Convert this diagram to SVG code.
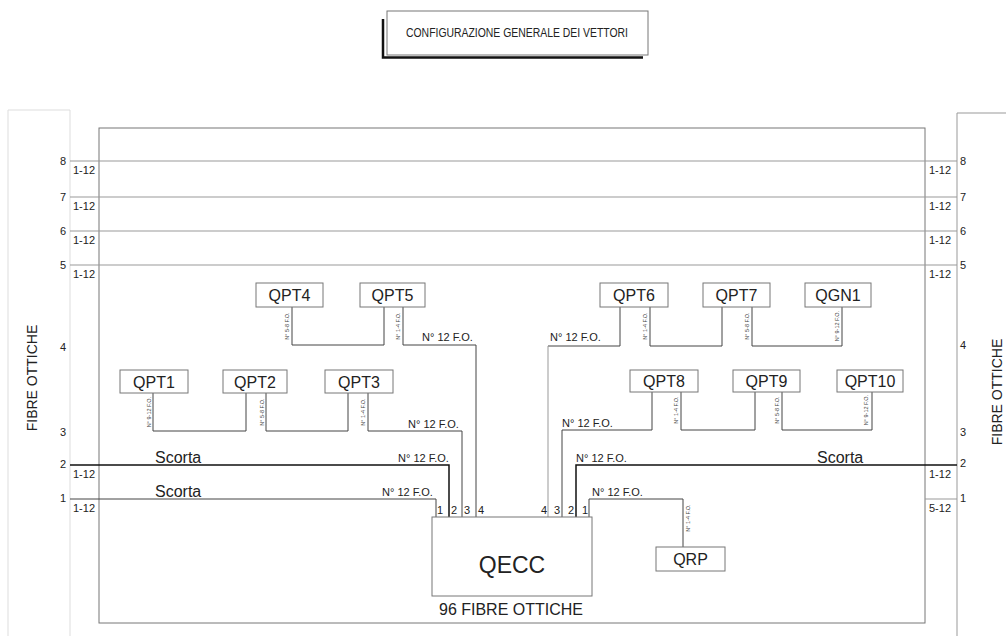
<svg xmlns="http://www.w3.org/2000/svg" width="1006" height="636" viewBox="0 0 1006 636">
<style>
text{font-family:"Liberation Sans",Arial,sans-serif;fill:#222}
.box{fill:#fff;stroke:#777;stroke-width:1}
.lbl{font-size:16px;text-anchor:middle}
.sm{font-size:5.5px;text-anchor:middle;fill:#444}
.fo{font-size:11px}
.num{font-size:11px}
.rng{font-size:11px}
.c{fill:none;stroke:#444;stroke-width:1}
.g{fill:none;stroke:#999;stroke-width:1}
.k{fill:none;stroke:#111;stroke-width:1.5}
</style>
<rect width="1006" height="636" fill="#fff"/>
<g id="title">
<path d="M383,19 V57.5 H643" fill="none" stroke="#111" stroke-width="2.5"/>
<rect x="387" y="11" width="261" height="44" class="box" stroke="#888"/>
<text x="517" y="37" font-size="12" text-anchor="middle" textLength="222" lengthAdjust="spacingAndGlyphs" fill="#333">CONFIGURAZIONE  GENERALE  DEI  VETTORI</text>
</g>
<g id="frames">
<path d="M8,636 V110 H70 V636" fill="none" stroke="#ddd" stroke-width="1"/>
<path d="M957,636 V113 H1006" fill="none" stroke="#999" stroke-width="1"/>
<rect x="99" y="128" width="826" height="495" fill="none" stroke="#777" stroke-width="1"/>
<text x="0" y="0" font-size="14" text-anchor="middle" transform="translate(37,378) rotate(-90)">FIBRE OTTICHE</text>
<text x="0" y="0" font-size="14" text-anchor="middle" transform="translate(1002,392) rotate(-90)">FIBRE OTTICHE</text>
</g>
<g id="connectors">
<path class="g" d="M70,161 H957 M70,197 H957 M70,231 H957 M70,265 H957"/>
<path class="c" d="M292,307 V345 H384 V307"/>
<path class="c" d="M403,307 V345 H476 V517"/>
<path class="c" d="M153,393 V431 H246 V393"/>
<path class="c" d="M266,393 V431 H348 V393"/>
<path class="c" d="M368,393 V431 H462 V517"/>
<path class="k" d="M70,465 H449 V517"/>
<path class="c" d="M70,499 H436 V517"/>
<path class="c" d="M620,307 V346 H548"/>
<path class="g" d="M548,346 V517" stroke="#bbb"/>
<path class="c" d="M650,307 V346 H722 V307"/>
<path class="c" d="M752,307 V346 H842 V307"/>
<path class="c" d="M652,392 V430 H562 V517"/>
<path class="c" d="M681,392 V430 H755 V392"/>
<path class="c" d="M782,392 V430 H872 V392"/>
<path class="k" d="M957,465 H576 V517"/>
<path class="c" d="M589,517 V499 H683 V547"/>
<path class="g" d="M925,499 H957"/>
</g>
<g id="fiber-labels">
<text class="num" x="66" y="165" text-anchor="end">8</text>
<text class="num" x="66" y="201" text-anchor="end">7</text>
<text class="num" x="66" y="235" text-anchor="end">6</text>
<text class="num" x="66" y="269" text-anchor="end">5</text>
<text class="num" x="66" y="351" text-anchor="end">4</text>
<text class="num" x="66" y="436" text-anchor="end">3</text>
<text class="num" x="66" y="468" text-anchor="end">2</text>
<text class="num" x="66" y="502" text-anchor="end">1</text>
<text class="rng" x="73" y="174">1-12</text>
<text class="rng" x="73" y="210">1-12</text>
<text class="rng" x="73" y="244">1-12</text>
<text class="rng" x="73" y="278">1-12</text>
<text class="rng" x="73" y="478">1-12</text>
<text class="rng" x="73" y="512">1-12</text>
<text class="num" x="960" y="165">8</text>
<text class="num" x="960" y="201">7</text>
<text class="num" x="960" y="235">6</text>
<text class="num" x="960" y="269">5</text>
<text class="num" x="960" y="349">4</text>
<text class="num" x="960" y="436">3</text>
<text class="num" x="960" y="467">2</text>
<text class="num" x="960" y="502">1</text>
<text class="rng" x="929" y="174">1-12</text>
<text class="rng" x="929" y="210">1-12</text>
<text class="rng" x="929" y="244">1-12</text>
<text class="rng" x="929" y="278">1-12</text>
<text class="rng" x="929" y="478">1-12</text>
<text class="rng" x="929" y="512">5-12</text>
<text font-size="16" x="155" y="463">Scorta</text>
<text font-size="16" x="155" y="497">Scorta</text>
<text font-size="16" x="817" y="463">Scorta</text>
<text class="fo" x="422" y="341">N° 12 F.O.</text>
<text class="fo" x="408" y="428">N° 12 F.O.</text>
<text class="fo" x="398" y="462">N° 12 F.O.</text>
<text class="fo" x="382" y="496">N° 12 F.O.</text>
<text class="fo" x="550" y="341">N° 12 F.O.</text>
<text class="fo" x="562" y="427">N° 12 F.O.</text>
<text class="fo" x="576" y="462">N° 12 F.O.</text>
<text class="fo" x="592" y="496">N° 12 F.O.</text>
<text class="sm" transform="translate(151,412) rotate(-90)">N° 9-12 F.O.</text>
<text class="sm" transform="translate(264,412) rotate(-90)">N° 5-8 F.O.</text>
<text class="sm" transform="translate(365,412) rotate(-90)">N° 1-4 F.O.</text>
<text class="sm" transform="translate(289,326) rotate(-90)">N° 5-8 F.O.</text>
<text class="sm" transform="translate(400,326) rotate(-90)">N° 1-4 F.O.</text>
<text class="sm" transform="translate(647,326) rotate(-90)">N° 1-4 F.O.</text>
<text class="sm" transform="translate(749,326) rotate(-90)">N° 5-8 F.O.</text>
<text class="sm" transform="translate(839,326) rotate(-90)">N° 9-12 F.O.</text>
<text class="sm" transform="translate(678,410) rotate(-90)">N° 1-4 F.O.</text>
<text class="sm" transform="translate(779,410) rotate(-90)">N° 5-8 F.O.</text>
<text class="sm" transform="translate(868,410) rotate(-90)">N° 9-12 F.O.</text>
<text class="sm" transform="translate(690,518) rotate(-90)">N° 1-4 F.O.</text>
</g>
<g id="QPT4"><rect class="box" x="256" y="283" width="67" height="24"/><text class="lbl" x="289.5" y="301">QPT4</text></g>
<g id="QPT5"><rect class="box" x="360" y="283" width="65" height="24"/><text class="lbl" x="392.5" y="301">QPT5</text></g>
<g id="QPT1"><rect class="box" x="120" y="370" width="68" height="23"/><text class="lbl" x="154" y="388">QPT1</text></g>
<g id="QPT2"><rect class="box" x="223" y="370" width="64" height="23"/><text class="lbl" x="255" y="388">QPT2</text></g>
<g id="QPT3"><rect class="box" x="325" y="370" width="68" height="23"/><text class="lbl" x="359" y="388">QPT3</text></g>
<g id="QPT6"><rect class="box" x="600" y="283" width="68" height="24"/><text class="lbl" x="634" y="301">QPT6</text></g>
<g id="QPT7"><rect class="box" x="703" y="283" width="67" height="24"/><text class="lbl" x="736.5" y="301">QPT7</text></g>
<g id="QGN1"><rect class="box" x="805" y="283" width="66" height="24"/><text class="lbl" x="838" y="301">QGN1</text></g>
<g id="QPT8"><rect class="box" x="630" y="370" width="68" height="22"/><text class="lbl" x="664" y="387">QPT8</text></g>
<g id="QPT9"><rect class="box" x="733" y="370" width="67" height="22"/><text class="lbl" x="766.5" y="387">QPT9</text></g>
<g id="QPT10"><rect class="box" x="837" y="370" width="66" height="22"/><text class="lbl" x="870" y="387">QPT10</text></g>
<g id="QRP"><rect class="box" x="656" y="547" width="69" height="24"/><text class="lbl" x="690.5" y="565">QRP</text></g>
<g id="QECC">
<rect class="box" x="432" y="517" width="160" height="79" stroke="#888"/>
<text x="512" y="573" font-size="23" text-anchor="middle">QECC</text>
<text x="511" y="615" font-size="16" text-anchor="middle">96 FIBRE OTTICHE</text>
<text class="num" x="437" y="514">1</text>
<text class="num" x="451" y="514">2</text>
<text class="num" x="464" y="514">3</text>
<text class="num" x="478" y="514">4</text>
<text class="num" x="541" y="514">4</text>
<text class="num" x="554" y="514">3</text>
<text class="num" x="568" y="514">2</text>
<text class="num" x="582" y="514">1</text>
</g>
</svg>
